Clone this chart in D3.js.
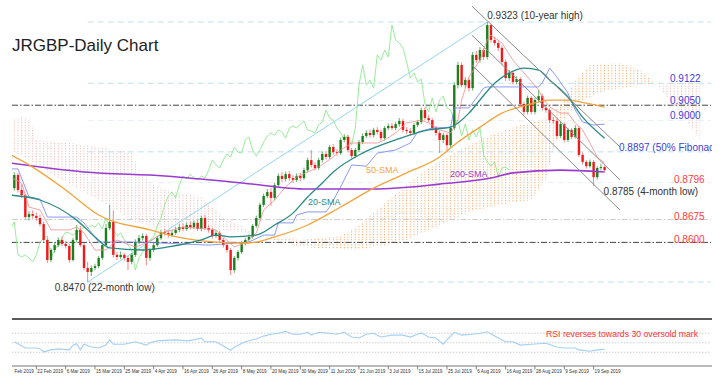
<!DOCTYPE html>
<html>
<head>
<meta charset="utf-8">
<script src="https://cdn.jsdelivr.net/npm/d3@7"></script>
<style>
  body { margin: 0; background: #fff; }
  svg { display: block; font-family: "Liberation Sans", Arial, sans-serif; }
</style>
</head>
<body>
<script>
// ---- data (bar index = trading day, bar 0 = 12 Feb 2019) ----
var startBar = 2;
var firstOpen = 0.8778;

var closes = [
  0.8821,0.8772,0.8755,0.8683,0.8693,0.8687,0.8680,0.8660,0.8608,0.8542,
  0.8575,0.8591,0.8608,0.8595,0.8588,0.8542,0.8608,0.8641,0.8591,0.8516,
  0.8503,0.8516,0.8522,0.8549,0.8591,0.8647,0.8667,0.8559,0.8552,0.8559,
  0.8549,0.8536,0.8559,0.8601,0.8614,0.8621,0.8549,0.8575,0.8591,0.8614,
  0.8634,0.8631,0.8624,0.8631,0.8641,0.8650,0.8644,0.8657,0.8650,0.8664,
  0.8644,0.8680,0.8647,0.8641,0.8621,0.8631,0.8608,0.8591,0.8575,0.8509,
  0.8549,0.8568,0.8598,0.8608,0.8618,0.8654,0.8680,0.8723,0.8752,0.8765,
  0.8746,0.8788,0.8818,0.8808,0.8824,0.8811,0.8805,0.8818,0.8811,0.8837,
  0.8870,0.8854,0.8844,0.8870,0.8890,0.8880,0.8913,0.8896,0.8893,0.8936,
  0.8946,0.8903,0.8883,0.8903,0.8929,0.8949,0.8959,0.8952,0.8969,0.8962,
  0.8942,0.8975,0.8982,0.8975,0.8988,0.8998,0.8969,0.8965,0.8959,0.8985,
  0.8995,0.9034,0.9008,0.9001,0.8975,0.8959,0.8936,0.8952,0.8919,0.8975,
  0.9116,0.9182,0.9116,0.9133,0.9106,0.9215,0.9198,0.9231,0.9208,0.9313,
  0.9264,0.9254,0.9238,0.9192,0.9139,0.9156,0.9126,0.9136,0.9054,0.9028,
  0.9074,0.9028,0.9067,0.9080,0.9041,0.9034,0.9001,0.8998,0.8949,0.8988,
  0.8936,0.8969,0.8946,0.8975,0.8887,0.8864,0.8850,0.8864,0.8814,0.8844,
  0.8847,0.8837
];
var highs = [
  0.8830,0.8828,0.8790,0.8760,0.8702,0.8705,0.8698,0.8692,0.8668,0.8615,
  0.8582,0.8600,0.8616,0.8620,0.8605,0.8595,0.8614,0.8657,0.8654,0.8598,
  0.8536,0.8525,0.8530,0.8556,0.8598,0.8660,0.8723,0.8705,0.8568,0.8570,
  0.8566,0.8556,0.8565,0.8610,0.8624,0.8630,0.8628,0.8582,0.8600,0.8622,
  0.8642,0.8645,0.8640,0.8640,0.8650,0.8660,0.8662,0.8665,0.8668,0.8672,
  0.8675,0.8688,0.8690,0.8656,0.8648,0.8640,0.8638,0.8615,0.8598,0.8582,
  0.8555,0.8575,0.8605,0.8615,0.8626,0.8660,0.8688,0.8730,0.8760,0.8775,
  0.8778,0.8795,0.8826,0.8830,0.8832,0.8834,0.8820,0.8826,0.8828,0.8845,
  0.8878,0.8903,0.8862,0.8877,0.8898,0.8900,0.8920,0.8922,0.8905,0.8944,
  0.8955,0.8952,0.8910,0.8910,0.8936,0.8957,0.8968,0.8970,0.8976,0.8978,
  0.8970,0.8982,0.8990,0.8992,0.8996,0.9008,0.9005,0.8978,0.8975,0.8992,
  0.9002,0.9042,0.9044,0.9018,0.9008,0.8982,0.8966,0.8960,0.8958,0.8982,
  0.9125,0.9192,0.9190,0.9142,0.9140,0.9225,0.9228,0.9240,0.9238,0.9323,
  0.9318,0.9275,0.9262,0.9245,0.9200,0.9165,0.9162,0.9145,0.9142,0.9062,
  0.9082,0.9080,0.9075,0.9100,0.9088,0.9050,0.9040,0.9010,0.9005,0.8995,
  0.8994,0.8976,0.8975,0.8985,0.8982,0.8895,0.8870,0.8872,0.8870,0.8850,
  0.8858,0.8852
];
var lows = [
  0.8770,0.8764,0.8745,0.8676,0.8672,0.8678,0.8670,0.8652,0.8600,0.8532,
  0.8535,0.8566,0.8585,0.8588,0.8580,0.8533,0.8538,0.8600,0.8584,0.8508,
  0.8470,0.8490,0.8508,0.8515,0.8542,0.8585,0.8640,0.8550,0.8542,0.8545,
  0.8540,0.8509,0.8528,0.8552,0.8595,0.8606,0.8525,0.8540,0.8568,0.8585,
  0.8608,0.8622,0.8615,0.8617,0.8625,0.8634,0.8636,0.8638,0.8642,0.8644,
  0.8637,0.8636,0.8640,0.8632,0.8612,0.8614,0.8600,0.8583,0.8566,0.8493,
  0.8500,0.8540,0.8562,0.8590,0.8600,0.8612,0.8648,0.8672,0.8716,0.8745,
  0.8720,0.8738,0.8780,0.8798,0.8800,0.8802,0.8795,0.8798,0.8800,0.8805,
  0.8830,0.8846,0.8836,0.8838,0.8862,0.8872,0.8874,0.8888,0.8884,0.8887,
  0.8928,0.8895,0.8875,0.8876,0.8896,0.8922,0.8942,0.8944,0.8945,0.8954,
  0.8934,0.8935,0.8968,0.8968,0.8968,0.8980,0.8960,0.8956,0.8950,0.8952,
  0.8978,0.8988,0.9000,0.8993,0.8966,0.8950,0.8893,0.8925,0.8896,0.8912,
  0.8968,0.9105,0.9108,0.9106,0.9095,0.9098,0.9188,0.9190,0.9198,0.9200,
  0.9255,0.9245,0.9228,0.9182,0.9130,0.9130,0.9118,0.9118,0.9045,0.9018,
  0.9020,0.9020,0.9020,0.9058,0.9032,0.9025,0.8992,0.8990,0.8940,0.8942,
  0.8928,0.8930,0.8938,0.8940,0.8880,0.8855,0.8842,0.8845,0.8785,0.8806,
  0.8836,0.8832
];

// moving averages at sample bars
var sma20Bars = [1,9,19,24,28,37,44,53,57,61,68,73,78,82,86,89,97,106,115,121,126,129,132,137,141,145,148,153,157,163];
var sma20Vals = [0.8755,0.8739,0.8673,0.8618,0.8582,0.8575,0.8585,0.8608,0.8624,0.8618,0.8624,0.8657,0.8696,0.8749,0.8795,0.8831,0.8893,0.8936,0.8969,0.8978,0.9024,0.9067,0.9110,0.9156,0.9172,0.9165,0.9133,0.9077,0.9011,0.8942];
var sma50Bars = [1,7,16,25,39,48,57,66,73,82,91,100,109,118,123,129,135,142,148,153,158,163];
var sma50Vals = [0.8887,0.8847,0.8772,0.8690,0.8641,0.8614,0.8601,0.8598,0.8618,0.8657,0.8716,0.8778,0.8828,0.8880,0.8929,0.8978,0.9024,0.9051,0.9067,0.9067,0.9057,0.9044];
var sma200Bars = [1,21,43,64,82,100,118,132,138,151,163];
var sma200Vals = [0.8860,0.8831,0.8818,0.8795,0.8775,0.8775,0.8791,0.8811,0.8828,0.8837,0.8831];

// ichimoku lines
var tenkanBars = [1,4,6,9,12,17,19,21,24,27,30,35,38,43,48,52,57,59,62,65,68,70,73,76,79,82,85,89,91,94,101,103,106,109,113,115,118,121,123,124,126,129,131,132,135,138,142,145,146,148,151,153,155,157,159,161,163];
var tenkanVals = [0.8814,0.8795,0.8716,0.8706,0.8641,0.8641,0.8650,0.8631,0.8575,0.8575,0.8608,0.8585,0.8598,0.8634,0.8650,0.8647,0.8641,0.8618,0.8585,0.8598,0.8631,0.8706,0.8739,0.8782,0.8814,0.8831,0.8847,0.8880,0.8903,0.8926,0.8926,0.8936,0.8959,0.8992,0.9001,0.8992,0.8969,0.8959,0.9001,0.9067,0.9142,0.9198,0.9264,0.9280,0.9254,0.9198,0.9142,0.9100,0.9077,0.9044,0.9024,0.9024,0.8992,0.8969,0.8926,0.8880,0.8860];
var kijunBars = [1,3,6,9,11,19,21,25,36,55,66,70,73,74,78,79,82,87,88,91,94,98,101,106,110,112,116,121,122,126,130,131,145,146,148,150,153,155,157,160,163];
var kijunVals = [0.8841,0.8841,0.8749,0.8742,0.8683,0.8683,0.8664,0.8601,0.8601,0.8591,0.8601,0.8624,0.8624,0.8664,0.8664,0.8690,0.8700,0.8700,0.8716,0.8782,0.8854,0.8850,0.8893,0.8903,0.8926,0.8962,0.8975,0.8978,0.9041,0.9041,0.9106,0.9110,0.9110,0.9123,0.9172,0.9142,0.9090,0.9034,0.8995,0.8985,0.8988];
var spanABars = [1,7,14,25,35,42,53,64,70,80,91,96,104,113,123,132,140,147,151,155,159,167,173,178,184,189];
var spanAVals = [0.8903,0.8864,0.8811,0.8739,0.8667,0.8647,0.8647,0.8634,0.8621,0.8608,0.8621,0.8657,0.8739,0.8828,0.8903,0.8952,0.8985,0.9008,0.9051,0.9133,0.9182,0.9188,0.9165,0.9106,0.9018,0.8936];
var spanBBars = [1,4,6,7,8,17,25,34,36,40,44,53,59,66,70,80,95,107,118,126,134,143,147,149,152,156,162,173,189];
var spanBVals = [0.9001,0.9011,0.9008,0.8975,0.8936,0.8926,0.8913,0.8896,0.8837,0.8788,0.8772,0.8749,0.8683,0.8641,0.8618,0.8585,0.8575,0.8598,0.8657,0.8700,0.8723,0.8739,0.8805,0.8903,0.9001,0.9060,0.9093,0.9116,0.9126];

// rsi
var rsiBars = [2,3,5,8,9,10,12,14,17,18,19,20,21,23,25,27,28,29,32,35,38,39,41,46,49,51,53,54,57,59,61,62,65,68,70,72,74,76,78,80,82,83,85,88,90,92,94,96,98,100,102,105,108,110,113,115,117,119,120,122,124,127,129,131,133,136,138,140,143,147,150,152,155,156,159,161,163];
var rsiVals = [52,48,39,39,37,31,35,37,35,45,48,35,47,41,39,45,56,47,47,52,45,50,54,56,54,56,60,52,52,43,34,41,52,58,64,68,70,74,68,68,72,66,72,70,68,72,62,60,68,70,62,66,66,62,71,62,60,47,56,72,66,68,70,73,64,52,52,45,47,49,41,39,39,35,32,35,36];
var rsiGrid = [70, 50, 30];

// levels
var fibLevels = [0.9323, 0.9122, 0.9000, 0.8897, 0.8796, 0.8470];
var fibFaint = [0.9000, 0.8796];
var keyLevels = [0.9050, 0.8600];
var minorLevels = [0.8675];
var lowBar = 22, highBar = 131;

// descending channel [bar, price]
var channelLines = [
  [[126.8, 0.9375], [167.2, 0.8913]],
  [[126.8, 0.9280], [167.2, 0.8805]],
  [[126.8, 0.9182], [167.2, 0.8706]]
];

var blueLabels = ["0.9122", "0.9050", "0.9000", "0.8897 (50% Fibonacci)"];
var blueValues = [0.9122, 0.9050, 0.9000, 0.8897];
var redLabels = ["0.8796", "0.8675", "0.8600"];
var redValues = [0.8796, 0.8675, 0.8600];

var tickLabels = ["12 Feb 2019","22 Feb 2019","6 Mar 2019","15 Mar 2019","25 Mar 2019","4 Apr 2019",
  "16 Apr 2019","26 Apr 2019","8 May 2019","20 May 2019","30 May 2019","11 Jun 2019","21 Jun 2019",
  "3 Jul 2019","15 Jul 2019","25 Jul 2019","6 Aug 2019","16 Aug 2019","28 Aug 2019","9 Sep 2019","19 Sep 2019"];

// ---- drawing ----
var svg = d3.select("body")
            .append("svg")
            .attr("width", 724)
            .attr("height", 385);

var x = d3.scaleLinear().domain([0, 163]).range([7, 7 + 163 * 29.33 / 8]);
var y = d3.scaleLinear().domain([0.8470, 0.9323]).range([282, 22]);
var yRsi = d3.scaleLinear().domain([0, 100]).range([366.5, 319]);

var pairs = function(bars, vals) {
  return bars.map(function(b, k) { return [b, vals[k]]; });
};

var defs = svg.append("defs");
defs.append("clipPath").attr("id", "plotClip")
    .append("rect").attr("x", 12).attr("y", 0).attr("width", 700).attr("height", 316);
defs.append("clipPath").attr("id", "axisClip")
    .append("rect").attr("x", 13.3).attr("y", 355).attr("width", 700).attr("height", 30);

var dotPattern = function(id, color) {
  var p = defs.append("pattern")
              .attr("id", id)
              .attr("patternUnits", "userSpaceOnUse")
              .attr("x", x(0) - 0.5)
              .attr("width", x(1) - x(0))
              .attr("height", 2.6);
  p.append("rect").attr("width", 1).attr("height", 1.1).attr("fill", color);
};
dotPattern("dotsBull", "#f5a25e");
dotPattern("dotsBear", "#e6b4b2");

var plot = svg.append("g").attr("clip-path", "url(#plotClip)");

// ichimoku cloud, coloured by which span is on top
var spanA = pairs(spanABars, spanAVals);
var spanB = pairs(spanBBars, spanBVals);
var poly = d3.line().x(function(d) { return x(d[0]); }).y(function(d) { return y(d[1]); });
var cloudD = poly(spanA.concat(spanB.slice().reverse())) + "Z";
defs.append("clipPath").attr("id", "aboveA").append("path")
    .attr("d", d3.area().x(function(d) { return x(d[0]); }).y0(0).y1(function(d) { return y(d[1]); })(spanA));
defs.append("clipPath").attr("id", "belowA").append("path")
    .attr("d", d3.area().x(function(d) { return x(d[0]); }).y0(316).y1(function(d) { return y(d[1]); })(spanA));
plot.append("g").attr("clip-path", "url(#aboveA)")
    .append("path").attr("d", cloudD).attr("fill", "url(#dotsBear)");
plot.append("g").attr("clip-path", "url(#belowA)")
    .append("path").attr("d", cloudD).attr("fill", "url(#dotsBull)");

// horizontal levels
plot.selectAll(".fib")
    .data(fibLevels)
    .enter()
    .append("line")
    .attr("x1", x(lowBar)).attr("x2", 711)
    .attr("y1", function(d) { return y(d); })
    .attr("y2", function(d) { return y(d); })
    .attr("stroke", function(d) { return fibFaint.indexOf(d) >= 0 ? "#e6f1f5" : "#bfe0ec"; })
    .attr("stroke-width", 1)
    .attr("stroke-dasharray", "6,4");

plot.selectAll(".key")
    .data(keyLevels.concat(minorLevels))
    .enter()
    .append("line")
    .attr("x1", 12).attr("x2", 711)
    .attr("y1", function(d) { return y(d); })
    .attr("y2", function(d) { return y(d); })
    .attr("stroke", function(d) { return keyLevels.indexOf(d) >= 0 ? "#444" : "#cfcfcf"; })
    .attr("stroke-width", 1)
    .attr("stroke-dasharray", "6,2,1.5,2");

// rising trend line from the low to the high
plot.append("line")
    .attr("x1", x(lowBar)).attr("y1", y(lows[lowBar - startBar]))
    .attr("x2", x(highBar)).attr("y2", y(highs[highBar - startBar]))
    .attr("stroke", "#86d0f0")
    .attr("stroke-width", 0.9);

// chikou span = close shifted 26 bars back
var chikou = closes.map(function(c, k) { return [startBar + k - 26, c]; });
var line = d3.line().x(function(d) { return x(d[0]); }).y(function(d) { return y(d[1]); });
var smooth = d3.line().curve(d3.curveMonotoneX).x(function(d) { return x(d[0]); }).y(function(d) { return y(d[1]); });

plot.append("path").attr("d", line(chikou))
    .attr("fill", "none").attr("stroke", "#8eea8e").attr("stroke-width", 0.9);

// candles
var candles = closes.map(function(c, k) {
  return { bar: startBar + k, o: k === 0 ? firstOpen : closes[k - 1], c: c, h: highs[k], l: lows[k] };
});
var bw = 2.4;
var cg = plot.selectAll(".candle")
             .data(candles)
             .enter()
             .append("g");
cg.append("line")
  .attr("x1", function(d) { return x(d.bar); })
  .attr("x2", function(d) { return x(d.bar); })
  .attr("y1", function(d) { return y(d.h); })
  .attr("y2", function(d) { return y(d.l); })
  .attr("stroke", function(d) { return d.c >= d.o ? "#3f9f3f" : "#f36a6a"; })
  .attr("stroke-width", 0.8);
cg.append("rect")
  .attr("x", function(d) { return x(d.bar) - bw / 2; })
  .attr("width", bw)
  .attr("y", function(d) { return y(Math.max(d.o, d.c)); })
  .attr("height", function(d) { return Math.max(0.8, Math.abs(y(d.o) - y(d.c))); })
  .attr("fill", function(d) { return d.c >= d.o ? "#1b7f1b" : "#f01818"; });

// indicator lines
plot.append("path").attr("d", line(pairs(tenkanBars, tenkanVals)))
    .attr("fill", "none").attr("stroke", "#f28c8c").attr("stroke-width", 0.8);
plot.append("path").attr("d", line(pairs(kijunBars, kijunVals)))
    .attr("fill", "none").attr("stroke", "#6f7ff0").attr("stroke-width", 0.8);
plot.append("path").attr("d", smooth(pairs(sma200Bars, sma200Vals)))
    .attr("fill", "none").attr("stroke", "#9b3ad0").attr("stroke-width", 1.6);
plot.append("path").attr("d", smooth(pairs(sma50Bars, sma50Vals)))
    .attr("fill", "none").attr("stroke", "#f5a33a").attr("stroke-width", 1.3);
plot.append("path").attr("d", smooth(pairs(sma20Bars, sma20Vals)))
    .attr("fill", "none").attr("stroke", "#2a8a86").attr("stroke-width", 1.3);

// descending channel
plot.selectAll(".chan")
    .data(channelLines)
    .enter()
    .append("path")
    .attr("d", line)
    .attr("fill", "none")
    .attr("stroke", "#8c8c8c")
    .attr("stroke-width", 1);

// text
svg.append("text").attr("x", 12).attr("y", 51)
   .attr("font-size", 17).attr("fill", "#222").text("JRGBP-Daily Chart");

var labels = svg.append("g").attr("clip-path", "url(#plotClip)").attr("font-size", 10);
labels.append("text").attr("x", x(highBar)).attr("y", y(0.9323) - 3)
      .attr("fill", "#333").text("0.9323 (10-year high)");
labels.append("text").attr("x", x(lowBar) - 33).attr("y", y(0.8470) + 9)
      .attr("fill", "#333").text("0.8470 (22-month low)");
labels.append("text").attr("x", x(160) + 10).attr("y", y(0.8785) + 9)
      .attr("fill", "#333").text("0.8785 (4-month low)");

labels.selectAll(".blue")
      .data(blueLabels)
      .enter()
      .append("text")
      .attr("x", function(d, k) { return k === 3 ? 619 : 670; })
      .attr("y", function(d, k) { return y(blueValues[k]) - 1; })
      .attr("fill", "#3d3dd8")
      .text(function(d) { return d; });
labels.selectAll(".red")
      .data(redLabels)
      .enter()
      .append("text")
      .attr("x", 674)
      .attr("y", function(d, k) { return y(redValues[k]) + 0.5; })
      .attr("fill", "#ff3b3b")
      .text(function(d) { return d; });

labels.append("text").attr("x", 308).attr("y", 205).attr("font-size", 9)
      .attr("fill", "#2a8a86").text("20-SMA");
labels.append("text").attr("x", 366).attr("y", 173).attr("font-size", 9)
      .attr("fill", "#f5a33a").text("50-SMA");
labels.append("text").attr("x", 450).attr("y", 177).attr("font-size", 9)
      .attr("fill", "#9b3ad0").text("200-SMA");

// rsi panel
svg.append("line").attr("x1", 12).attr("x2", 712).attr("y1", 319).attr("y2", 319)
   .attr("stroke", "#5a5a5a").attr("stroke-width", 2);
svg.selectAll(".rsigrid")
   .data(rsiGrid)
   .enter()
   .append("line")
   .attr("x1", 12).attr("x2", 711)
   .attr("y1", function(d) { return yRsi(d); })
   .attr("y2", function(d) { return yRsi(d); })
   .attr("stroke", "#cfcfcf")
   .attr("stroke-dasharray", "1.5,1.5");
svg.append("path")
   .attr("d", d3.line().x(function(d) { return x(d[0]); }).y(function(d) { return yRsi(d[1]); })(pairs(rsiBars, rsiVals)))
   .attr("fill", "none").attr("stroke", "#a3d0f5").attr("stroke-width", 1.1);
svg.append("text").attr("x", 546).attr("y", 337).attr("font-size", 8.7)
   .attr("fill", "#ff3030").text("RSI reverses towards 30 oversold mark");

// date axis
svg.append("line").attr("x1", 12).attr("x2", 712).attr("y1", 366).attr("y2", 366)
   .attr("stroke", "#777").attr("stroke-width", 1);
var ax = svg.append("g").attr("clip-path", "url(#axisClip)");
ax.selectAll(".tick")
  .data(tickLabels)
  .enter()
  .append("line")
  .attr("x1", function(d, k) { return x(k * 8); })
  .attr("x2", function(d, k) { return x(k * 8); })
  .attr("y1", 366).attr("y2", 369.5)
  .attr("stroke", "#555").attr("stroke-width", 0.7);
ax.selectAll(".tlabel")
  .data(tickLabels)
  .enter()
  .append("text")
  .attr("x", function(d, k) { return x(k * 8) + 1; })
  .attr("y", 372.5)
  .attr("font-size", 4.6)
  .attr("fill", "#333")
  .text(function(d) { return d; });
</script>
</body>
</html>
